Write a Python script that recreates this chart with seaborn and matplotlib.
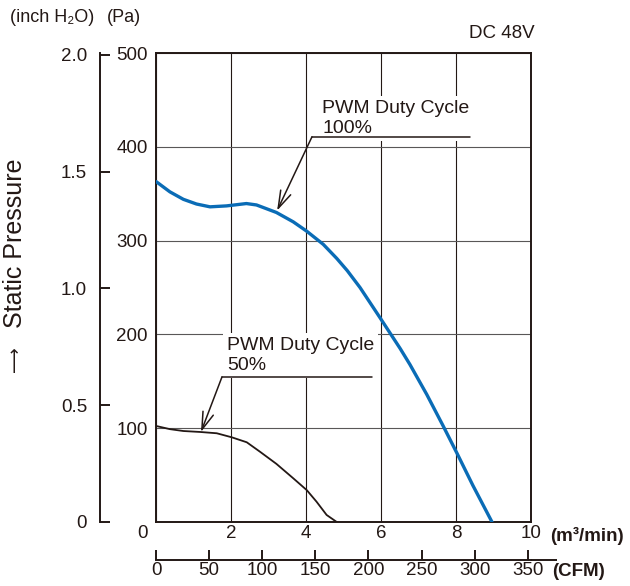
import numpy as np
import pandas as pd
import matplotlib
matplotlib.use("Agg")
import matplotlib.pyplot as plt
import matplotlib.transforms as mtransforms
import seaborn as sns

# P-Q 特性 (風量 m3/min, 静圧 Pa)
flow_100 = [0, 0.37, 0.73, 1.08, 1.44, 1.88, 2.2, 2.41, 2.68, 3.21, 3.66, 4.02, 4.46, 4.82,
            5.1, 5.44, 5.97, 6.51, 6.77, 7.22, 7.65, 8.03, 8.45, 8.96]
pres_100 = [363, 352, 344, 339, 336, 337, 338.5, 339.5, 338, 330, 320, 310, 296, 281,
            268, 250, 218, 185, 168, 136, 103, 73, 39, 0]
flow_50 = [0, 0.37, 0.73, 1.17, 1.62, 2.02, 2.42, 2.77, 3.21, 3.66, 4.02, 4.28, 4.55, 4.82]
pres_50 = [102.4, 99, 97, 96, 94.6, 90.3, 85, 75, 62, 46.6, 34, 21.7, 7.5, 0]

flow_ticks = [0, 2, 4, 6, 8, 10]
pa_ticks = [100, 200, 300, 400, 500]
inch_ticks = [0, 0.5, 1.0, 1.5, 2.0]
inch_labels = ["0", "0.5", "1.0", "1.5", "2.0"]
cfm_ticks = [0, 50, 100, 150, 200, 250, 300, 350]

PA_PER_INCH = 249.1
CFM_PER_M3 = 35.31

BLUE = "#0a6cb6"
INK = "#231815"
FONTS = ["Liberation Sans", "Noto Sans CJK JP", "DejaVu Sans"]

sns.set_style("white")
plt.rcParams["font.family"] = FONTS
plt.rcParams["font.size"] = 13.5
plt.rcParams["text.color"] = INK
plt.rcParams["xtick.color"] = INK
plt.rcParams["ytick.color"] = INK

df = pd.concat([
    pd.DataFrame({"flow": flow_100, "pressure": pres_100, "duty": "100%"}),
    pd.DataFrame({"flow": flow_50, "pressure": pres_50, "duty": "50%"}),
])

fig = plt.figure(figsize=(6.3, 5.86), dpi=100)
ax = fig.add_axes([156 / 630, 64 / 586, 375 / 630, 469 / 586])

sns.lineplot(data=df, x="flow", y="pressure", hue="duty", sort=False,
             palette={"100%": BLUE, "50%": INK}, ax=ax, legend=False,
             estimator=None, zorder=5)
ax.lines[0].set_linewidth(2.4)
ax.lines[0].set_solid_joinstyle("round")
ax.lines[1].set_linewidth(1.3)
ax.lines[1].set_solid_joinstyle("round")

ax.set_xlim(0, 10)
ax.set_ylim(0, 500)
ax.set_xticks(flow_ticks)
ax.set_yticks(pa_ticks)
ax.set_xlabel("")
ax.set_ylabel("")
ax.tick_params(axis="both", length=0, labelsize=13.5)
ax.tick_params(axis="y", pad=5.8)
ax.tick_params(axis="x", pad=1.8)
ax.xaxis.grid(True, color=INK, linewidth=0.8)
ax.yaxis.grid(True, color="#595757", linewidth=0.8)
ax.set_axisbelow(True)
for sp in ax.spines.values():
    sp.set_color(INK)
    sp.set_linewidth(1.4)

# "0" を左にずらす
lbl0 = ax.get_xticklabels()[0]
lbl0.set_transform(lbl0.get_transform() +
                   mtransforms.ScaledTranslation(-0.13, 0, fig.dpi_scale_trans))

# inch H2O 軸
sec_y = ax.secondary_yaxis(-56 / 375, functions=(lambda p: p / PA_PER_INCH,
                                                 lambda i: i * PA_PER_INCH))
sec_y.set_yticks(inch_ticks, labels=inch_labels)
sec_y.tick_params(direction="in", length=7.2, width=1.4, pad=9.2, labelsize=13.5)
sec_y.spines["left"].set_linewidth(1.4)
sec_y.spines["left"].set_color(INK)

# CFM 軸
cfm_y = -38 / 469
sec_x = ax.secondary_xaxis(cfm_y, functions=(lambda m: m * CFM_PER_M3,
                                             lambda c: c / CFM_PER_M3))
sec_x.set_xticks(cfm_ticks)
sec_x.tick_params(direction="in", length=7.2, width=1.4, pad=1.2, labelsize=13.5)
sec_x.spines["bottom"].set_linewidth(1.4)
sec_x.spines["bottom"].set_color(INK)
ax.plot([1, (557 - 156) / 375], [cfm_y, cfm_y], transform=ax.transAxes,
        clip_on=False, color=INK, linewidth=1.4, solid_capstyle="butt")

# 注記
arrow = dict(arrowstyle="->,head_length=0.7,head_width=0.22", color=INK, lw=1.1,
             shrinkA=0, shrinkB=0, mutation_scale=18)
ax.text(4.43, 415, "PWM Duty Cycle\n100%", ha="left", va="baseline",
        linespacing=1.2, fontsize=14, zorder=4,
        bbox=dict(facecolor="white", edgecolor="none", pad=3))
ax.plot([4.16, 8.37], [410.7, 410.7], color=INK, lw=1.1, zorder=6)
ax.annotate("", xy=(3.23, 332), xytext=(4.16, 410.7), arrowprops=arrow, zorder=6)

ax.text(1.89, 162, "PWM Duty Cycle\n50%", ha="left", va="baseline",
        linespacing=1.2, fontsize=14, zorder=4,
        bbox=dict(facecolor="white", edgecolor="none", pad=3))
ax.plot([1.76, 5.75], [154.7, 154.7], color=INK, lw=1.1, zorder=6)
ax.annotate("", xy=(1.2, 96), xytext=(1.76, 154.7), arrowprops=arrow, zorder=6)

fig.text(10 / 630, 1 - 18 / 586, "(inch H₂O)", ha="left", va="center", fontsize=13)
fig.text(107 / 630, 1 - 18 / 586, "(Pa)", ha="left", va="center", fontsize=13)
fig.text(535 / 630, 1 - 33 / 586, "DC 48V", ha="right", va="center", fontsize=13.5)
fig.text(15 / 630, 1 - 243 / 586, "Static Pressure", rotation=90,
         ha="center", va="center", fontsize=18)
fig.text(15 / 630, 1 - 359 / 586, "⟶", rotation=90, ha="center", va="center",
         fontsize=13, family=["DejaVu Sans"])
fig.text(550 / 630, 1 - 536 / 586, "(m³/min)", ha="left", va="center",
         fontsize=13.5, fontweight="bold")
fig.text(552 / 630, 1 - 572 / 586, "(CFM)", ha="left", va="center",
         fontsize=13.5, fontweight="bold")

fig.savefig("out.png", dpi=100)
